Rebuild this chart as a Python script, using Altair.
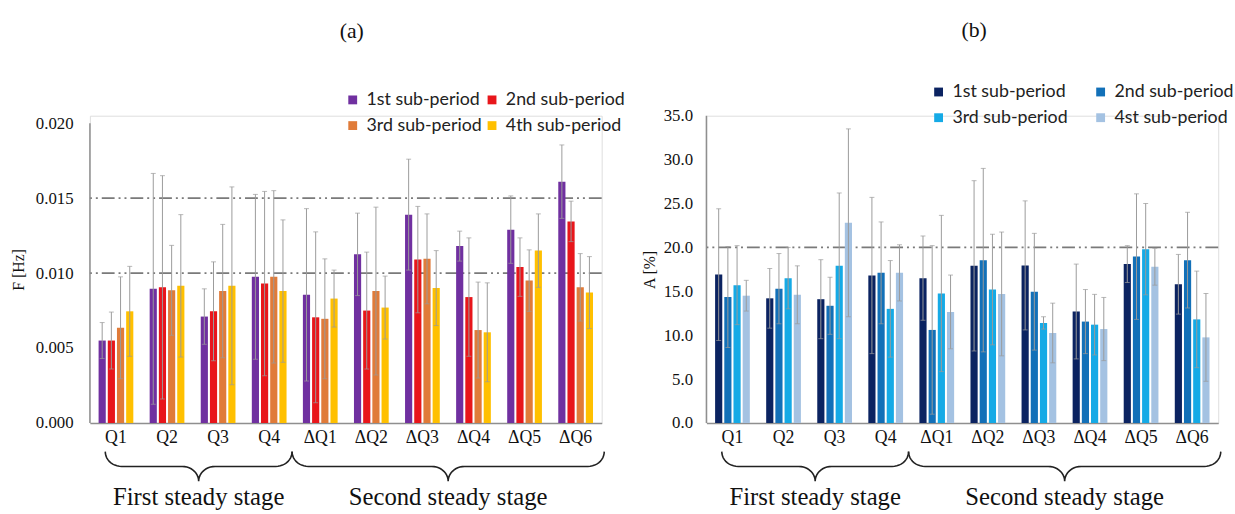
import altair as alt
import pandas as pd
import numpy as np

groups = ["Q1", "Q2", "Q3", "Q4", "ΔQ1", "ΔQ2", "ΔQ3", "ΔQ4", "ΔQ5", "ΔQ6"]
periods_a = ["1st sub-period", "2nd sub-period", "3rd sub-period", "4th sub-period"]
periods_b = ["1st sub-period", "2nd sub-period", "3rd sub-period", "4st sub-period"]
colors_a = ["#7030A0", "#E8161B", "#E07B39", "#FFC000"]
colors_b = ["#0B2361", "#1270B8", "#15AAE6", "#A4C2E2"]

# (a) F [Hz]: means and half-widths of the error bars
f_p1 = [0.0055, 0.00895, 0.0071, 0.00975, 0.00855, 0.01125, 0.0139, 0.0118, 0.0129, 0.0161]
f_p1_err = [0.0012, 0.0077, 0.00185, 0.0055, 0.00575, 0.00275, 0.0037, 0.0010, 0.00225, 0.00245]
f_p2 = [0.0055, 0.00905, 0.00745, 0.0093, 0.00705, 0.0075, 0.0109, 0.0084, 0.0104, 0.01345]
f_p2_err = [0.0019, 0.00745, 0.0033, 0.00615, 0.0057, 0.0039, 0.00355, 0.00395, 0.00195, 0.00135]
f_p3 = [0.00635, 0.00885, 0.0088, 0.00975, 0.00695, 0.0088, 0.01095, 0.0062, 0.0095, 0.00905]
f_p3_err = [0.0034, 0.0030, 0.00445, 0.00575, 0.0040, 0.0056, 0.0030, 0.0032, 0.00205, 0.00225]
f_p4 = [0.00745, 0.00915, 0.00915, 0.0088, 0.0083, 0.0077, 0.0090, 0.00605, 0.0115, 0.0087]
f_p4_err = [0.0030, 0.00475, 0.0066, 0.00475, 0.0019, 0.0021, 0.0025, 0.0033, 0.00245, 0.0024]

# (b) A [%]
a_p1 = [16.9, 14.2, 14.1, 16.8, 16.5, 17.9, 17.95, 12.7, 18.1, 15.8]
a_p1_err = [7.5, 3.4, 4.5, 8.9, 4.8, 9.7, 7.35, 5.4, 2.1, 3.4]
a_p2 = [14.35, 15.3, 13.35, 17.1, 10.6, 18.55, 14.95, 11.55, 18.95, 18.55]
a_p2_err = [5.75, 4.0, 3.25, 5.8, 9.6, 10.45, 6.65, 3.65, 7.15, 5.45]
a_p3 = [15.7, 16.5, 17.9, 13.0, 14.75, 15.2, 11.4, 11.2, 19.8, 11.8]
a_p3_err = [4.5, 3.5, 8.3, 5.5, 8.9, 6.3, 0.7, 3.45, 5.2, 5.5]
a_p4 = [14.5, 14.6, 22.8, 17.1, 12.65, 14.7, 10.25, 10.7, 17.8, 9.75]
a_p4_err = [1.75, 3.3, 10.7, 3.2, 4.2, 7.05, 3.4, 3.6, 2.1, 5.0]

f_refs = [0.010, 0.015]
a_refs = [20.0]
f_ticks = [0.0, 0.005, 0.010, 0.015, 0.020]
a_ticks = [0.0, 5.0, 10.0, 15.0, 20.0, 25.0, 30.0, 35.0]

stages = ["First steady stage", "Second steady stage"]
stage_spans = [(0.3, 3.95), (3.95, 10.05)]  # in category-index units

SERIF = "Liberation Serif"
SANS = "Lato"
AX = "#8f8f8f"
ERR = "#9a9a9a"
W, H = 518, 311


def long_df(periods, means, errs):
    rows = []
    for p, m, e in zip(periods, means, errs):
        for g, v, d in zip(groups, m, e):
            rows.append({"group": g, "period": p, "value": v, "lo": v - d, "hi": v + d})
    return pd.DataFrame(rows)


def brace_df():
    rows = []
    t = np.linspace(0, np.pi / 2, 12)
    r = 0.32
    for bid, (x0, x1) in enumerate(stage_spans):
        xm = (x0 + x1) / 2
        left = []
        left += list(zip(x0 + r * (1 - np.cos(t)), 0.5 * np.sin(t)))
        left += list(zip(xm - r + r * np.sin(t), 0.5 + 0.5 * (1 - np.cos(t))))
        right = [(2 * xm - x, y) for x, y in reversed(left)]
        for i, (x, y) in enumerate(left + right):
            rows.append({"bid": bid, "order": i, "bx": x, "by": y})
    return pd.DataFrame(rows)


def stage_df():
    return pd.DataFrame({
        "stage": stages,
        "cx": [(a + b) / 2 for a, b in stage_spans],
        "cy": [1.55, 1.55],
    })


def panel(df, periods, colors, y_domain, y_ticks, y_fmt, y_title, refs, axis_top,
          title, title_off, title_dx, leg_x, leg_y, col_pad, lab_size, xlab_size,
          ylab_pad, y_ext, y_tpad):
    x_enc = alt.X("group:N", sort=groups,
                  scale=alt.Scale(paddingInner=0.32, paddingOuter=0.17),
                  axis=alt.Axis(title=None, labelAngle=0, ticks=False, domainColor=AX,
                                domainWidth=1.5, labelFont=SERIF, labelFontSize=xlab_size,
                                labelColor="#111", labelPadding=6))
    xo = alt.XOffset("period:N", sort=periods,
                     scale=alt.Scale(domain=periods, paddingInner=0.22, paddingOuter=0.0))
    y_scale = alt.Scale(domain=y_domain, nice=False, zero=True)
    y_axis = alt.Axis(values=y_ticks, format=y_fmt, title=y_title, grid=False, ticks=False,
                      domain=False, labelFont=SERIF, labelFontSize=lab_size,
                      labelColor="#111", labelPadding=ylab_pad, minExtent=y_ext,
                      maxExtent=y_ext, titleFont=SERIF, titleFontSize=16,
                      titleFontWeight="normal", titleColor="#111", titlePadding=y_tpad)

    ref_layer = alt.Chart(pd.DataFrame({"ref": refs})).mark_rule(
        color="#7a7a7a", strokeWidth=1.6, strokeDash=[13, 4, 2, 4, 2, 4]
    ).encode(y=alt.Y("ref:Q", scale=y_scale, axis=y_axis))

    # legend read row by row: 1st, 2nd / 3rd, 4th (Vega fills columns first)
    legend_order = [periods[0], periods[2], periods[1], periods[3]]
    base = alt.Chart(df)
    bars = base.mark_bar().encode(
        x=x_enc, xOffset=xo,
        y=alt.Y("value:Q", scale=y_scale, axis=y_axis),
        color=alt.Color("period:N", sort=periods,
                        scale=alt.Scale(domain=periods, range=colors),
                        legend=alt.Legend(title=None, orient="none", legendX=leg_x,
                                          legendY=leg_y, columns=2, columnPadding=col_pad,
                                          values=legend_order,
                                          rowPadding=8, symbolType="square", symbolSize=80,
                                          symbolStrokeWidth=0, symbolOffset=0,
                                          labelFont=SANS, labelFontSize=18, labelOffset=5,
                                          labelColor="#222", labelLimit=300)),
    )
    err = base.mark_rule(color=ERR, strokeWidth=1).encode(
        x=x_enc, xOffset=xo, y=alt.Y("lo:Q", scale=y_scale, axis=y_axis), y2="hi:Q")
    cap_hi = base.mark_tick(color=ERR, size=5, thickness=1).encode(
        x=x_enc, xOffset=xo, y=alt.Y("hi:Q", scale=y_scale, axis=y_axis))
    cap_lo = base.mark_tick(color=ERR, size=5, thickness=1).encode(
        x=x_enc, xOffset=xo, y=alt.Y("lo:Q", scale=y_scale, axis=y_axis))
    yline = alt.Chart(pd.DataFrame({"y0": [0.0], "y1": [axis_top]})).mark_rule(
        color=AX, strokeWidth=1.5
    ).encode(x=alt.value(0), y=alt.Y("y0:Q", scale=y_scale, axis=y_axis), y2="y1:Q")

    inner = alt.layer(ref_layer, bars, err, cap_hi, cap_lo, yline)

    bx_scale = alt.Scale(domain=[0, 10], range=[0, W], nice=False, zero=False)
    by_scale = alt.Scale(domain=[0, 1], range=[H + 29, H + 59], nice=False, zero=False)
    brace = alt.Chart(brace_df()).mark_line(color="#222", strokeWidth=1.6).encode(
        x=alt.X("bx:Q", scale=bx_scale, axis=None),
        y=alt.Y("by:Q", scale=by_scale, axis=None),
        detail="bid:N", order="order:Q")
    stage_text = alt.Chart(stage_df()).mark_text(
        font=SERIF, fontSize=25, color="#111", baseline="middle", align="center"
    ).encode(
        x=alt.X("cx:Q", scale=bx_scale, axis=None),
        y=alt.Y("cy:Q", scale=by_scale, axis=None),
        text="stage:N")

    return alt.layer(inner, brace, stage_text).resolve_scale(
        x="independent", y="independent"
    ).properties(
        width=W, height=H,
        title=alt.TitleParams(title, font=SERIF, fontSize=22, fontWeight="normal",
                              color="#111", anchor="middle", offset=title_off,
                              dx=title_dx),
    )


pa = panel(long_df(periods_a, [f_p1, f_p2, f_p3, f_p4], [f_p1_err, f_p2_err, f_p3_err, f_p4_err]),
           periods_a, colors_a, [0, 0.0205], f_ticks, ".3f", "F [Hz]", f_refs, 0.020,
           "(a)", 49, 6, 257, -25, 1, 17, 18, 17, 53, 11)
pb = panel(long_df(periods_b, [a_p1, a_p2, a_p3, a_p4], [a_p1_err, a_p2_err, a_p3_err, a_p4_err]),
           periods_b, colors_b, [0, 35], a_ticks, ".1f", "A [%]", a_refs, 35.0,
           "(b)", 42, 12, 226, -33, 24, 17, 18, 14, 48, 2)

chart = alt.hconcat(pa, pb, spacing=106, bounds="flush").resolve_scale(
    color="independent", xOffset="independent"
).resolve_legend(color="independent").properties(
    padding={"left": 10, "top": 15, "right": 0, "bottom": 0}
).configure_view(stroke=None).configure(background="white")

chart.save("out.html", embed_options={"renderer": "svg", "actions": False})
